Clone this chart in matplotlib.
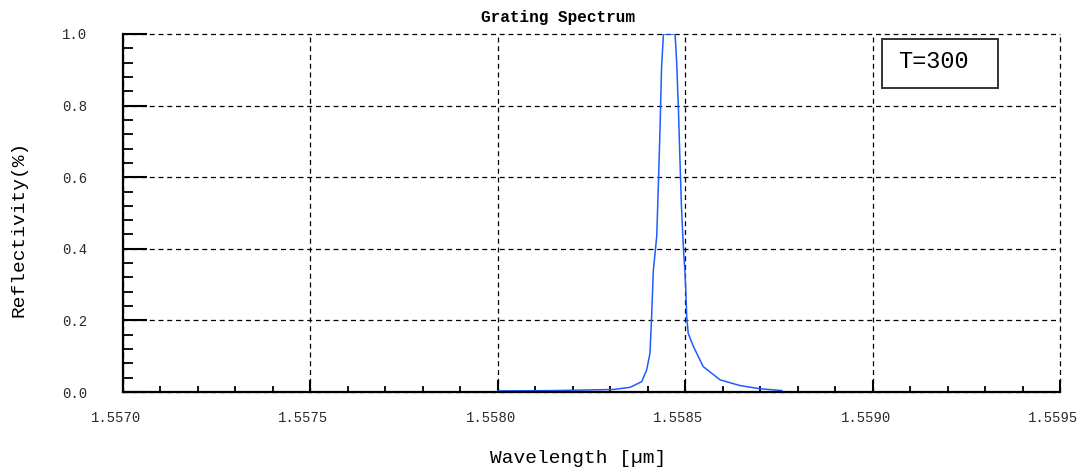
import matplotlib.pyplot as plt
import matplotlib.transforms as mtransforms
from matplotlib.patches import Rectangle
from matplotlib.ticker import MultipleLocator, FormatStrFormatter

# reflection spectrum of the grating (wavelength in um, reflectivity)
wavelength = [1.558000, 1.558150, 1.558308, 1.558353, 1.558384, 1.558397,
              1.558406, 1.558410, 1.558415, 1.558424, 1.558428, 1.558433,
              1.558437, 1.558442, 1.558473, 1.558477, 1.558482, 1.558486,
              1.558490, 1.558495, 1.558499, 1.558502, 1.558504, 1.558508,
              1.558522, 1.558548, 1.558593, 1.558646, 1.558700, 1.558758]
reflectivity = [0.003, 0.004, 0.007, 0.013, 0.029, 0.061,
                0.108, 0.200, 0.340, 0.434, 0.564, 0.741,
                0.909, 1.000, 1.000, 0.927, 0.788, 0.648,
                0.518, 0.406, 0.341, 0.276, 0.210, 0.164,
                0.127, 0.071, 0.034, 0.018, 0.009, 0.004]

temperature = 300

mono = "Liberation Mono"

fig = plt.figure(figsize=(10.84, 4.69), dpi=100)
ax = fig.add_axes([123/1084, 1 - 392/469, 937/1084, 358/469])

ax.plot(wavelength, reflectivity, color="#1f5cff", lw=1.1)

ax.set_xlim(1.5570, 1.5595)
ax.set_ylim(0.0, 1.0)

ax.xaxis.set_major_locator(MultipleLocator(0.0005))
ax.xaxis.set_minor_locator(MultipleLocator(0.0001))
ax.yaxis.set_major_locator(MultipleLocator(0.2))
ax.yaxis.set_minor_locator(MultipleLocator(0.04))
ax.xaxis.set_major_formatter(FormatStrFormatter("%.4f"))
ax.yaxis.set_major_formatter(FormatStrFormatter("%.1f"))

ax.grid(True, which="major", color="black", linestyle=(0, (4, 3)), lw=0.9)
# grid lines on the frame edges form the dashed top/right border
for gl in ax.get_xgridlines() + ax.get_ygridlines():
    gl.set_clip_on(False)

for side in ("top", "right"):
    ax.spines[side].set_visible(False)
for side in ("left", "bottom"):
    ax.spines[side].set_linewidth(1.6)

ax.tick_params(axis="y", which="major", direction="in", length=17, width=1.5, pad=26)
ax.tick_params(axis="y", which="minor", direction="in", length=7, width=1.3)
ax.tick_params(axis="x", which="major", direction="in", length=9, width=1.5, pad=14)
ax.tick_params(axis="x", which="minor", direction="in", length=4, width=1.3)

for lab in ax.get_xticklabels() + ax.get_yticklabels():
    lab.set_fontfamily(mono)
    lab.set_fontsize(10)
    lab.set_color("#2a2a2a")

# x labels sit a little left of their ticks
shift = mtransforms.ScaledTranslation(-0.07, 0, fig.dpi_scale_trans)
for lab in ax.get_xticklabels():
    lab.set_transform(lab.get_transform() + shift)

ax.set_title("Grating Spectrum", fontfamily=mono, fontsize=11.5, fontweight="bold",
             pad=9, x=0.464)
ax.set_xlabel("Wavelength [µm]", fontfamily=mono, fontsize=14, labelpad=18, x=0.4856)
ax.set_ylabel("Reflectivity(%)", fontfamily=mono, fontsize=14, labelpad=25, y=0.455)

# temperature label box
ax.add_patch(Rectangle((0.810, 0.849), 0.1238, 0.1369, transform=ax.transAxes,
                       fc="white", ec="#333333", lw=1.4, zorder=5))
ax.text(0.827, 0.9226, "T=%d" % temperature, transform=ax.transAxes,
        fontfamily=mono, fontsize=17, ha="left", va="center", zorder=6)

plt.savefig("out.png", dpi=100)
plt.close()
